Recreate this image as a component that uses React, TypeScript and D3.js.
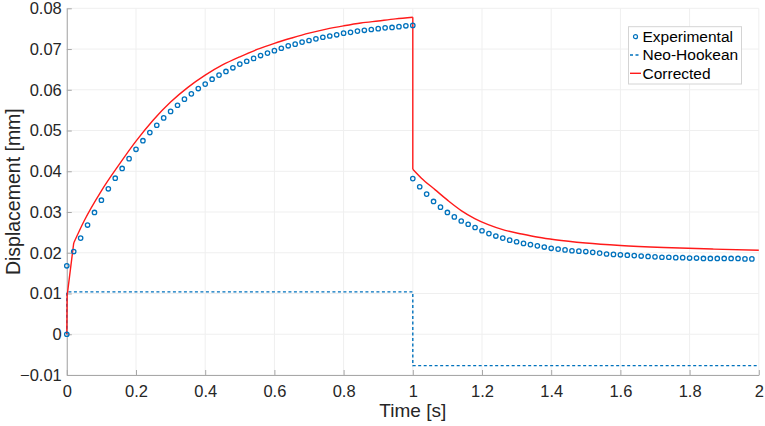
import { useEffect, useRef } from 'react'
import * as d3 from 'd3'

// [time (s), displacement (mm)]
const experimentalLoading: [number, number][] = [
  [0, 0], [0, 0.0168], [0.02, 0.0203], [0.04, 0.0236], [0.06, 0.0268], [0.08, 0.0299],
  [0.1, 0.0329], [0.12, 0.0357], [0.14, 0.0383], [0.16, 0.0407], [0.18, 0.0431],
  [0.2, 0.0454], [0.22, 0.0475], [0.24, 0.0495], [0.26, 0.0513], [0.28, 0.0531],
  [0.3, 0.0547], [0.32, 0.0562], [0.34, 0.0577], [0.36, 0.059], [0.38, 0.0603],
  [0.4, 0.0614], [0.42, 0.0626], [0.44, 0.0636], [0.46, 0.0645], [0.48, 0.0654],
  [0.5, 0.0663], [0.52, 0.067], [0.54, 0.0677], [0.56, 0.0684], [0.58, 0.069],
  [0.6, 0.0696], [0.62, 0.0702], [0.64, 0.0708], [0.66, 0.0712], [0.68, 0.0717],
  [0.7, 0.0721], [0.72, 0.0725], [0.74, 0.0729], [0.76, 0.0732], [0.78, 0.0735],
  [0.8, 0.0739], [0.82, 0.0741], [0.84, 0.0744], [0.86, 0.0746], [0.88, 0.0748],
  [0.9, 0.075], [0.92, 0.0752], [0.94, 0.0753], [0.96, 0.0755], [0.98, 0.0757],
  [1.0, 0.0758],
]

const experimentalUnloading: [number, number][] = [
  [1.0, 0.0382], [1.02, 0.0362], [1.04, 0.0344], [1.06, 0.0326], [1.08, 0.0312],
  [1.1, 0.0299], [1.12, 0.0288], [1.14, 0.0278], [1.16, 0.027], [1.18, 0.0262],
  [1.2, 0.0254], [1.22, 0.0247], [1.24, 0.0241], [1.26, 0.0236], [1.28, 0.0231],
  [1.3, 0.0227], [1.32, 0.0223], [1.34, 0.022], [1.36, 0.0217], [1.38, 0.0214],
  [1.4, 0.0211], [1.42, 0.0209], [1.44, 0.0207], [1.46, 0.0205], [1.48, 0.0204],
  [1.5, 0.0203], [1.52, 0.0201], [1.54, 0.0199], [1.56, 0.0197], [1.58, 0.0196],
  [1.6, 0.0195], [1.62, 0.0194], [1.64, 0.0193], [1.66, 0.0192], [1.68, 0.0191],
  [1.7, 0.019], [1.72, 0.0189], [1.74, 0.0189], [1.76, 0.0188], [1.78, 0.0188],
  [1.8, 0.0187], [1.82, 0.0187], [1.84, 0.0186], [1.86, 0.0186], [1.88, 0.0186],
  [1.9, 0.0186], [1.92, 0.0186], [1.94, 0.0186], [1.96, 0.0185], [1.98, 0.0185],
]

const neoHookean: [number, number][] = [
  [0, 0], [0, 0.0104], [1, 0.0104], [1, -0.0077], [2, -0.0077],
]

// initial jump of the corrected model (straight segments)
const correctedStart: [number, number][] = [
  [0, 0], [0.001, 0.0095], [0.02, 0.0224],
]

const correctedLoading: [number, number][] = [
  [0.02, 0.0224], [0.05, 0.0278], [0.1, 0.0352],
  [0.15, 0.0415], [0.2, 0.0474], [0.25, 0.0526], [0.3, 0.0570], [0.35, 0.0606],
  [0.4, 0.0636], [0.45, 0.0661], [0.5, 0.0681], [0.55, 0.0699], [0.6, 0.0714],
  [0.65, 0.0727], [0.7, 0.0739], [0.75, 0.0749], [0.8, 0.0757], [0.85, 0.0764],
  [0.9, 0.0769], [0.95, 0.0774], [1.0, 0.0778],
]

const correctedUnloading: [number, number][] = [
  [1.0, 0.0405], [1.025, 0.0383], [1.064, 0.0355], [1.102, 0.0328], [1.141, 0.0303],
  [1.179, 0.0284], [1.218, 0.0269], [1.267, 0.0255], [1.315, 0.0246], [1.363, 0.0238],
  [1.411, 0.0232], [1.5, 0.0224], [1.6, 0.0218], [1.725, 0.0213], [1.87, 0.0209],
  [2.0, 0.0206],
]

const xTicks = [0, 0.2, 0.4, 0.6, 0.8, 1, 1.2, 1.4, 1.6, 1.8, 2]
const yTicks = [-0.01, 0, 0.01, 0.02, 0.03, 0.04, 0.05, 0.06, 0.07, 0.08]
const legendItems = ['Experimental', 'Neo-Hookean', 'Corrected']

const BLUE = '#0072bd'
const RED = '#ff1a1a'
const FONT = '"Liberation Sans", Arial, Helvetica, sans-serif'

export default function App() {
  const svgRef = useRef<SVGSVGElement>(null)
  const width = 765
  const height = 426

  useEffect(() => {
    if (!svgRef.current) return
    const svg = d3.select(svgRef.current)
    svg.selectAll('*').remove()

    const margin = { top: 8.3, right: 6.2, bottom: 51, left: 66.8 }
    const innerWidth = width - margin.left - margin.right
    const innerHeight = height - margin.top - margin.bottom

    const x = d3.scaleLinear().domain([0, 2]).range([0, innerWidth])
    const y = d3.scaleLinear().domain([-0.01, 0.08]).range([innerHeight, 0])

    const g = svg.append('g').attr('transform', `translate(${margin.left},${margin.top})`)

    // Grid
    g.append('g')
      .selectAll('line')
      .data(xTicks)
      .enter().append('line')
      .attr('x1', d => x(d)).attr('x2', d => x(d))
      .attr('y1', 0).attr('y2', innerHeight)
      .attr('stroke', '#efefef')
    g.append('g')
      .selectAll('line')
      .data(yTicks)
      .enter().append('line')
      .attr('x1', 0).attr('x2', innerWidth)
      .attr('y1', d => y(d)).attr('y2', d => y(d))
      .attr('stroke', '#efefef')

    // Axes
    const xAxis = d3.axisBottom(x)
      .tickValues(xTicks)
      .tickSizeInner(-5)
      .tickSizeOuter(0)
      .tickPadding(12)
      .tickFormat(d => d3.format('~g')(d as number))
    const yAxis = d3.axisLeft(y)
      .tickValues(yTicks)
      .tickSizeInner(-5)
      .tickSizeOuter(0)
      .tickPadding(5)
      .tickFormat(d => d3.format('~g')(d as number))

    const gx = g.append('g').attr('transform', `translate(0,${innerHeight})`).call(xAxis)
    const gy = g.append('g').call(yAxis)
    for (const ax of [gx, gy]) {
      ax.select('.domain').attr('stroke', '#a8a8a8')
      ax.selectAll('.tick line').attr('stroke', '#a8a8a8')
      ax.selectAll('.tick text')
        .attr('fill', '#262626')
        .style('font-family', FONT)
        .style('font-size', '16.5px')
    }
    gx.selectAll('.tick text').attr('dy', '0.6em')

    g.append('text')
      .attr('x', innerWidth / 2)
      .attr('y', innerHeight + 42)
      .attr('text-anchor', 'middle')
      .attr('fill', '#262626')
      .style('font-family', FONT)
      .style('font-size', '19px')
      .text('Time [s]')

    g.append('text')
      .attr('transform', `translate(${-47},${innerHeight / 2}) rotate(-90)`)
      .attr('text-anchor', 'middle')
      .attr('fill', '#262626')
      .style('font-family', FONT)
      .style('font-size', '19.5px')
      .text('Displacement [mm]')

    const line = d3.line<[number, number]>().x(d => x(d[0])).y(d => y(d[1]))
    const smooth = d3.line<[number, number]>()
      .x(d => x(d[0])).y(d => y(d[1]))
      .curve(d3.curveMonotoneX)

    // Neo-Hookean
    g.append('path')
      .datum(neoHookean)
      .attr('fill', 'none')
      .attr('stroke', BLUE)
      .attr('stroke-width', 1.4)
      .attr('stroke-dasharray', '3,2.5')
      .attr('d', line)

    // Corrected
    const lastLoad = correctedLoading[correctedLoading.length - 1]
    const firstUnload = correctedUnloading[0]
    const red = (data: [number, number][], gen: d3.Line<[number, number]>) =>
      g.append('path')
        .datum(data)
        .attr('fill', 'none')
        .attr('stroke', RED)
        .attr('stroke-width', 1.4)
        .attr('stroke-linejoin', 'round')
        .attr('d', gen)
    red(correctedStart, line)
    red(correctedLoading, smooth)
    red([lastLoad, firstUnload], line)
    red(correctedUnloading, smooth)

    // Experimental markers
    g.append('g')
      .selectAll('circle')
      .data([...experimentalLoading, ...experimentalUnloading])
      .enter().append('circle')
      .attr('cx', d => x(d[0]))
      .attr('cy', d => y(d[1]))
      .attr('r', 2.2)
      .attr('fill', 'none')
      .attr('stroke', BLUE)
      .attr('stroke-width', 1.3)

    // Legend
    const legend = svg.append('g').attr('transform', 'translate(628.5,26.7)')
    legend.append('rect')
      .attr('width', 113)
      .attr('height', 57.3)
      .attr('fill', 'white')
      .attr('stroke', '#d4d4d4')

    legendItems.forEach((name, i) => {
      const cy = 10 + i * 18.3
      if (i === 0) {
        legend.append('circle')
          .attr('cx', 7).attr('cy', cy).attr('r', 2)
          .attr('fill', 'none').attr('stroke', BLUE).attr('stroke-width', 1.2)
      } else {
        legend.append('line')
          .attr('x1', 1.5).attr('x2', 12.5)
          .attr('y1', cy).attr('y2', cy)
          .attr('stroke', i === 1 ? BLUE : RED)
          .attr('stroke-width', 1.4)
          .attr('stroke-dasharray', i === 1 ? '3,2.5' : null)
      }
      legend.append('text')
        .attr('x', 14)
        .attr('y', cy)
        .attr('dy', '0.35em')
        .attr('fill', '#000')
        .style('font-family', FONT)
        .style('font-size', '15.5px')
        .text(name)
    })
  }, [])

  return (
    <svg
      ref={svgRef}
      width={width}
      height={height}
      style={{ position: 'absolute', left: 0, top: 0, background: 'white' }}
    />
  )
}
